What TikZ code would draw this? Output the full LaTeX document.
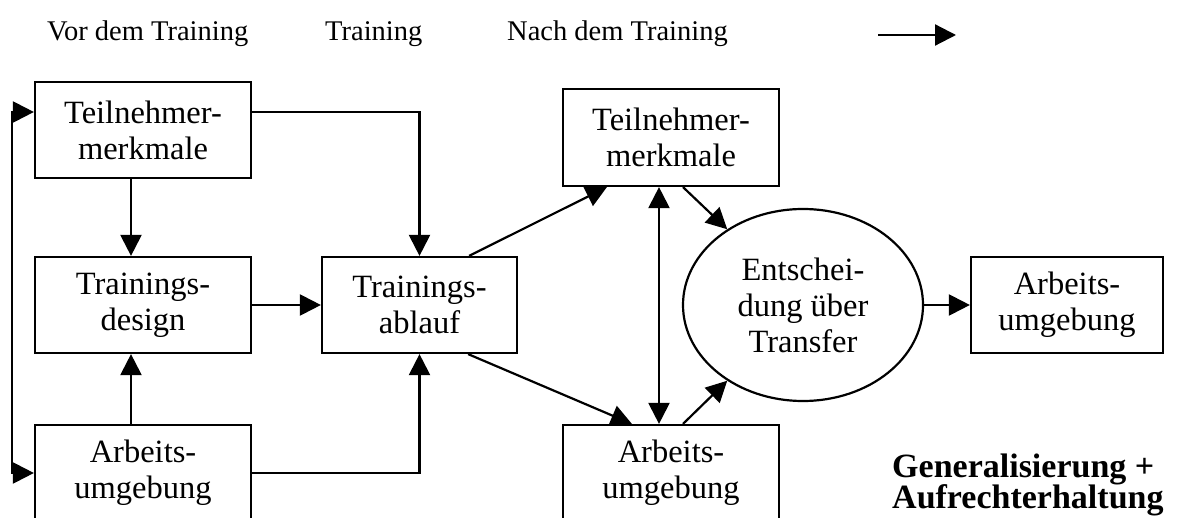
\documentclass[tikz,border=0pt]{standalone}
\usepackage{fontspec}
\setmainfont{Liberation Serif}
\usetikzlibrary{arrows.meta,shapes.geometric,calc}
\tikzset{
  box/.style={draw, line width=2.2pt, rectangle, minimum height=96pt, inner sep=0pt,
    align=center, font=\fontsize{32.5}{36}\selectfont},
  oval/.style={draw, line width=2.2pt, ellipse, minimum width=240pt, minimum height=192pt,
    inner sep=0pt, align=center, font=\fontsize{32.5}{36}\selectfont},
  conn/.style={line width=2.2pt, -{Triangle[length=21pt,width=21pt]}},
  biconn/.style={line width=2.2pt, {Triangle[length=21pt,width=21pt]}-{Triangle[length=21pt,width=21pt]}},
  phase/.style={anchor=base west, inner sep=0pt, font=\fontsize{28.5}{32}\selectfont},
  result/.style={anchor=base west, inner sep=0pt, font=\fontsize{34}{36}\selectfont\bfseries}
}
\begin{document}
\begin{tikzpicture}[x=1pt, y=-1pt]
\useasboundingbox (0,0) rectangle (1189,518);

% phase headings
\node[phase] (p1) at (47,41) {Vor dem Training};
\node[phase] (p2) at (325,41) {Training};
\node[phase] (p3) at (507,41) {Nach dem Training};
\coordinate (h1) at (878,35);
\coordinate (h2) at (956,35);
\draw[conn] (h1) -- (h2);

% before the training
\node[box, minimum width=216pt] (tm1) at (143,130) {Teilnehmer-\\merkmale};
\node[box, minimum width=216pt] (td)  at (143,305) {Trainings-\\design};
\node[box, minimum width=216pt] (au1) at (143,473) {Arbeits-\\umgebung};

% training
\node[box, minimum width=195pt] (ta) at (419.5,305) {Trainings-\\ablauf};

% after the training
\node[box, minimum width=216pt, minimum height=97pt] (tm2) at (671,137.5) {Teilnehmer-\\merkmale};
\node[box, minimum width=216pt] (au2) at (671,473) {Arbeits-\\umgebung};
\node[oval] (ent) at (803,305) {Entschei-\\dung über\\Transfer};
\node[box, minimum width=192pt] (au3) at (1067,305) {Arbeits-\\umgebung};

\node[result] (g1) at (892,477) {Generalisierung +};
\node[result] (g2) at (892,508) {Aufrechterhaltung};

% helper positions
\coordinate (lx) at (131,0);
\coordinate (ty) at (0,112);
\coordinate (fx) at (12,0);

% connectors, left part
\draw[conn] (tm1.south -| lx) -- (td.north -| lx);
\draw[conn] (au1.north -| lx) -- (td.south -| lx);
\draw[conn] (td.east) -- (ta.west);
\draw[conn] (tm1.east |- ty) -| (ta.north);
\draw[conn] (au1.east) -| (ta.south);
\draw[biconn] (tm1.west |- ty) -- (fx |- ty) -- (fx |- au1.west) -- (au1.west);

% connectors, right part
\draw[conn] ($(ta.north east)+(-49,0)$) -- ($(tm2.south west)+(45,0)$);
\draw[conn] ($(ta.south east)+(-50,0)$) -- ($(au2.north west)+(70,0)$);
\draw[biconn] ($(tm2.south)+(-12,0)$) -- ($(au2.north)+(-12,0)$);
\draw[conn] ($(tm2.south)+(12,0)$) -- (ent.135);
\draw[conn] ($(au2.north)+(12,0)$) -- (ent.225);
\draw[conn] (ent.east) -- (au3.west);
\end{tikzpicture}
\end{document}
